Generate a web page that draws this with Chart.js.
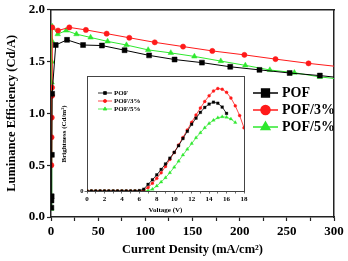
<!DOCTYPE html>
<html>
<head>
<meta charset="utf-8">
<script src="https://cdn.jsdelivr.net/npm/chart.js@4.4.1/dist/chart.umd.min.js"></script>
<style>
  body { margin: 0; background: #fff; }
  #wrap { position: relative; width: 348px; height: 261px; }
  #main { position: absolute; left: 0; top: 0; }
  #inset { position: absolute; left: 56px; top: 72px; }
</style>
</head>
<body>
<div id="wrap">
  <canvas id="main" width="348" height="261"></canvas>
  <canvas id="inset" width="194" height="144"></canvas>
</div>
<script>
// main plot: luminance efficiency vs current density
const pofDensity = [0.4, 0.5, 0.7, 0.9, 1.2, 5, 17, 34, 54, 78, 104, 131, 160, 190, 221, 253, 285, 316];
const pofEfficiency = [0.09, 0.16, 0.2, 0.6, 1.19, 1.66, 1.71, 1.66, 1.655, 1.61, 1.56, 1.52, 1.49, 1.45, 1.42, 1.39, 1.365, 1.335];

const pof3Density = [0.4, 0.6, 0.8, 1.0, 1.1, 1.3, 7.5, 19.4, 37, 59, 83, 110, 140, 171, 205, 238, 273, 316];
const pof3Efficiency = [0.5, 0.77, 0.96, 1.17, 1.25, 1.83, 1.8, 1.83, 1.806, 1.77, 1.73, 1.686, 1.645, 1.603, 1.565, 1.524, 1.483, 1.44];

const pof5Density = [0.3, 0.6, 0.8, 1.0, 1.2, 7.1, 16, 27, 42, 60, 80, 103, 127, 152, 180, 206, 232, 258, 285, 313];
const pof5Efficiency = [0.08, 1.3, 1.5, 1.7, 1.84, 1.765, 1.8, 1.765, 1.733, 1.695, 1.66, 1.613, 1.584, 1.55, 1.505, 1.464, 1.419, 1.393, 1.352, 1.325];

const mainXTicks = [0, 50, 100, 150, 200, 250, 300];
const mainYTicks = [0, 0.5, 1.0, 1.5, 2.0];

// inset: brightness vs voltage
const voltage = [0, 0.5, 1, 1.5, 2, 2.5, 3, 3.5, 4, 4.5, 5, 5.5, 6, 6.5, 7, 7.5, 8, 8.5, 9, 9.5,
                 10, 10.5, 11, 11.5, 12, 12.5, 13, 13.5, 14, 14.5, 15, 15.5, 16, 16.5, 17, 17.5, 18];
const pofBrightness = [0, 0, 0, 0, 0, 0, 0, 0, 0, 0, 0, 0, 20, 100, 380, 640, 920, 1230, 1540, 1870,
                       2200, 2580, 2990, 3400, 3800, 4150, 4480, 4760, 4950, 5060, 5000, 4780, 4420];
const pof3Brightness = [0, 0, 0, 0, 0, 0, 0, 0, 0, 0, 0, 0, 0, 40, 200, 440, 720, 1040, 1400, 1800,
                        2200, 2620, 3050, 3480, 3920, 4330, 4730, 5100, 5430, 5700, 5840, 5800, 5620, 5300, 4850, 4300, 3600];
const pof5Brightness = [0, 0, 0, 0, 0, 0, 0, 0, 0, 0, 0, 0, 0, 0, 20, 100, 290, 510, 760, 1040,
                        1360, 1700, 2050, 2380, 2700, 3030, 3320, 3600, 3850, 4030, 4170, 4230, 4200, 4100, 3900];

const seriesNames = ["POF", "POF/3%", "POF/5%"];
const seriesColors = ["#000000", "#ff1a1a", "#2ee82e"];
const seriesShapes = ["rect", "circle", "triangle"];

const serif = "'Liberation Serif', 'Times New Roman', serif";

function toPoints(xs, ys) {
    return ys.map((y, i) => ({ x: xs[i], y: y }));
}

// legend drawn inside the plot, like the original figure
const insideLegend = {
    id: "insideLegend",
    afterDraw(chart, args, opts) {
        const ctx = chart.ctx;
        ctx.save();
        ctx.font = opts.font;
        ctx.textBaseline = "middle";
        ctx.textAlign = "left";
        chart.data.datasets.forEach((ds, i) => {
            const y = opts.y + i * opts.rowGap;
            ctx.strokeStyle = ds.borderColor;
            ctx.lineWidth = opts.lineWidth;
            ctx.beginPath();
            ctx.moveTo(opts.x, y);
            ctx.lineTo(opts.x + opts.lineLen, y);
            ctx.stroke();
            ctx.fillStyle = ds.backgroundColor;
            Chart.helpers.drawPoint(ctx, { pointStyle: ds.pointStyle, radius: opts.radii[i], borderWidth: 0.5, rotation: 0 },
                opts.x + opts.lineLen / 2, y);
            ctx.fillStyle = "#000";
            ctx.fillText(ds.label, opts.x + opts.lineLen + opts.gap, y);
        });
        ctx.restore();
    }
};

function frameAxis(position) {
    return {
        type: "linear",
        position: position,
        display: true,
        ticks: { display: false },
        grid: { display: false, drawTicks: false },
        border: { display: true, color: "#222", width: 1.5 },
        afterFit(scale) {
            if (position === "top") scale.height = 0; else scale.width = 0;
        }
    };
}

const mainRadii = [3.5, 2.6, 3.2];
new Chart(document.getElementById("main"), {
    type: "scatter",
    data: {
        datasets: [
            toPoints(pofDensity, pofEfficiency),
            toPoints(pof3Density, pof3Efficiency),
            toPoints(pof5Density, pof5Efficiency)
        ].map((pts, i) => ({
            label: seriesNames[i],
            data: pts,
            showLine: true,
            borderColor: seriesColors[i],
            backgroundColor: seriesColors[i],
            borderWidth: 1,
            pointStyle: seriesShapes[i],
            pointRadius: mainRadii[i],
            pointBorderWidth: 0.5
        }))
    },
    options: {
        responsive: false,
        animation: false,
        layout: { padding: { top: 7, right: 14, left: 0, bottom: 0 } },
        plugins: {
            legend: { display: false },
            tooltip: { enabled: false },
            insideLegend: {
                x: 253, y: 93, rowGap: 17, lineLen: 25, gap: 4, lineWidth: 1.5,
                radii: [5.5, 4.5, 5], font: "bold 14px " + serif
            }
        },
        scales: {
            x: {
                type: "linear", min: 0, max: 300,
                afterBuildTicks: (s) => { s.ticks = [0, 25, 50, 75, 100, 125, 150, 175, 200, 225, 250, 275, 300].map(v => ({ value: v })); },
                ticks: {
                    callback: (v) => mainXTicks.includes(v) ? v : "",
                    color: "#000", padding: 3, maxRotation: 0, autoSkip: false,
                    font: { family: serif, size: 13, weight: "bold" }
                },
                grid: { drawOnChartArea: false, tickLength: 4, color: "#222", tickWidth: 1.2 },
                border: { color: "#222", width: 1.5 },
                title: {
                    display: true, text: "Current Density (mA/cm²)", color: "#000",
                    font: { family: serif, size: 12.5, weight: "bold" }, padding: { top: 0, bottom: 4 }
                },
                afterFit(scale) { scale.height = 44; }
            },
            y: {
                min: 0, max: 2,
                afterBuildTicks: (s) => { s.ticks = mainYTicks.map(v => ({ value: v })); },
                ticks: {
                    callback: (v) => v.toFixed(1),
                    color: "#000", padding: 2,
                    font: { family: serif, size: 13, weight: "bold" }
                },
                grid: { drawOnChartArea: false, tickLength: 4, color: "#222", tickWidth: 1.2 },
                border: { color: "#222", width: 1.5 },
                title: {
                    display: true, text: "Luminance Efficiency (Cd/A)", color: "#000",
                    font: { family: serif, size: 12.5, weight: "bold" }, padding: { top: 4, bottom: 0 }
                },
                afterFit(scale) { scale.width = 51; }
            },
            x2: frameAxis("top"),
            y2: frameAxis("right")
        }
    },
    plugins: [insideLegend]
});

// inset chart
const insetRadii = [1.9, 1.5, 2];
new Chart(document.getElementById("inset"), {
    type: "scatter",
    data: {
        datasets: [pofBrightness, pof3Brightness, pof5Brightness].map((vals, i) => ({
            label: seriesNames[i],
            data: toPoints(voltage, vals),
            showLine: true,
            borderColor: seriesColors[i],
            backgroundColor: seriesColors[i],
            borderWidth: 0.8,
            pointStyle: seriesShapes[i],
            pointRadius: insetRadii[i],
            pointBorderWidth: 0.3
        }))
    },
    options: {
        responsive: false,
        animation: false,
        layout: { padding: { top: 4, right: 6, left: 0, bottom: 0 } },
        plugins: {
            legend: { display: false },
            tooltip: { enabled: false },
            insideLegend: {
                x: 42, y: 21, rowGap: 8, lineLen: 14, gap: 2, lineWidth: 0.8,
                radii: [2, 1.6, 2.1], font: "bold 7px " + serif
            }
        },
        scales: {
            x: {
                type: "linear", min: 0, max: 18,
                ticks: {
                    stepSize: 1,
                    callback: (v) => v % 2 === 0 ? v : "",
                    color: "#000", padding: 1, maxRotation: 0, autoSkip: false,
                    font: { family: serif, size: 7, weight: "bold" }
                },
                grid: { drawOnChartArea: false, tickLength: 2.5, color: "#444", tickWidth: 0.8 },
                border: { color: "#444", width: 1 },
                title: {
                    display: true, text: "Voltage (V)", color: "#000",
                    font: { family: serif, size: 7, weight: "bold" }, padding: { top: 0, bottom: 2 }
                },
                afterFit(scale) { scale.height = 25; }
            },
            y: {
                min: 0, max: 6500,
                afterBuildTicks: (s) => { s.ticks = s.ticks.filter(t => t.value % 1000 === 0); },
                ticks: {
                    stepSize: 1000,
                    color: "#000", padding: 1,
                    font: { family: serif, size: 6.5, weight: "bold" }
                },
                grid: { drawOnChartArea: false, tickLength: 2.5, color: "#444", tickWidth: 0.8 },
                border: { color: "#444", width: 1 },
                title: {
                    display: true, text: "Brightness (Cd/m²)", color: "#000",
                    font: { family: serif, size: 7, weight: "bold" }, padding: { top: 4, bottom: 0 }
                },
                afterFit(scale) { scale.width = 31; }
            },
            x2: Object.assign(frameAxis("top"), { border: { display: true, color: "#444", width: 1 } }),
            y2: Object.assign(frameAxis("right"), { border: { display: true, color: "#444", width: 1 } })
        }
    },
    plugins: [insideLegend]
});
</script>
</body>
</html>
